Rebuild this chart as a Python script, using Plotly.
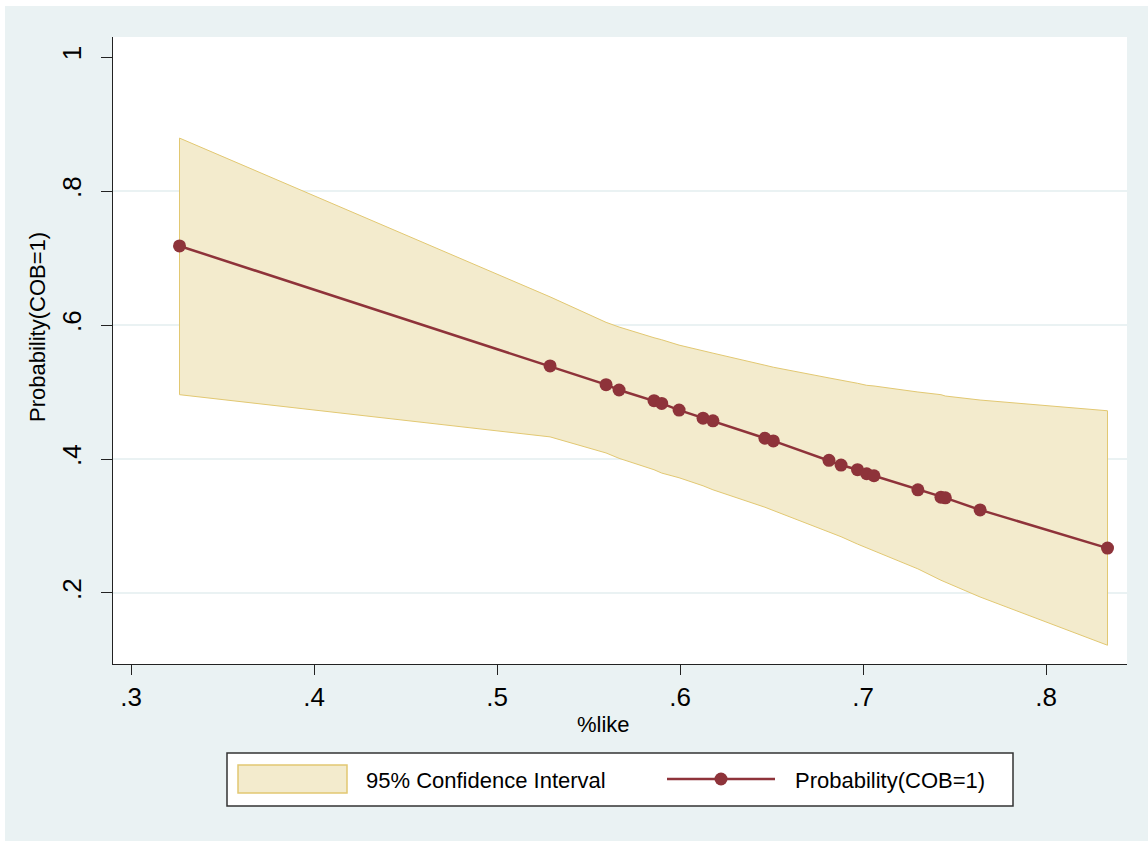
import plotly.graph_objects as go

# ---- data ----
pct_like = [0.3265, 0.529, 0.5596, 0.5667, 0.5858, 0.590, 0.5995, 0.6126, 0.618,
            0.6464, 0.651, 0.6814, 0.688, 0.697, 0.702, 0.706, 0.730, 0.7426,
            0.745, 0.764, 0.8336]
prob = [0.718, 0.539, 0.511, 0.503, 0.487, 0.483, 0.473, 0.461, 0.457,
        0.431, 0.427, 0.398, 0.391, 0.384, 0.378, 0.375, 0.354, 0.343,
        0.342, 0.324, 0.267]
ci_upper = [0.879, 0.642, 0.604, 0.597, 0.581, 0.578, 0.570, 0.561, 0.558,
            0.540, 0.537, 0.521, 0.518, 0.513, 0.510, 0.509, 0.500, 0.496,
            0.494, 0.488, 0.472]
ci_lower = [0.496, 0.433, 0.409, 0.401, 0.384, 0.379, 0.372, 0.360, 0.354,
            0.328, 0.324, 0.291, 0.284, 0.273, 0.267, 0.263, 0.236, 0.219,
            0.216, 0.194, 0.122]

x_ticks = [0.3, 0.4, 0.5, 0.6, 0.7, 0.8]
x_ticktext = [".3", ".4", ".5", ".6", ".7", ".8"]
y_ticks = [0.2, 0.4, 0.6, 0.8, 1.0]
y_ticktext = [".2", ".4", ".6", ".8", "1"]
grid_vals = [0.2, 0.4, 0.6, 0.8]

x_title = "%like"
y_title = "Probability(COB=1)"
ci_name = "95% Confidence Interval"
prob_name = "Probability(COB=1)"

# ---- styles ----
FONT = "Liberation Sans, Arial, sans-serif"
BG = "#EAF2F3"
FILL = "#F3EBCD"
FILL_EDGE = "#E2C872"
LINE = "#8E333A"

W, H = 1148, 841
L, R, T, B = 113, 21, 37, 177
PW, PH = W - L - R, H - T - B


def fx(px):
    return (px - L) / PW


def fy(py):
    return (H - B - py) / PH


fig = go.Figure()

# CI band as closed polygon
band_x = pct_like + pct_like[::-1] + [pct_like[0]]
band_y = ci_upper + ci_lower[::-1] + [ci_upper[0]]
fig.add_trace(go.Scatter(
    x=band_x, y=band_y, mode="lines", fill="toself",
    fillcolor=FILL, line=dict(color=FILL_EDGE, width=1),
    name=ci_name, showlegend=False, hoverinfo="skip"))

fig.add_trace(go.Scatter(
    x=pct_like, y=prob, mode="lines+markers",
    line=dict(color=LINE, width=2.5),
    marker=dict(color=LINE, size=13),
    name=prob_name, showlegend=False))

shapes = []
# horizontal grid lines
for g in grid_vals:
    shapes.append(dict(type="line", xref="paper", yref="y", x0=0, x1=1, y0=g, y1=g,
                       line=dict(color=BG, width=2), layer="below"))

# white border strips (top and left) as in the reference image
shapes.append(dict(type="rect", xref="paper", yref="paper",
                   x0=fx(0), x1=fx(W), y0=fy(0), y1=fy(6),
                   fillcolor="white", line=dict(width=0)))
shapes.append(dict(type="rect", xref="paper", yref="paper",
                   x0=fx(0), x1=fx(5), y0=fy(0), y1=fy(H),
                   fillcolor="white", line=dict(width=0)))

# custom legend box
shapes.append(dict(type="rect", xref="paper", yref="paper",
                   x0=fx(227), x1=fx(1013), y0=fy(806), y1=fy(753),
                   fillcolor="white", line=dict(color="#333333", width=1.5)))
shapes.append(dict(type="rect", xref="paper", yref="paper",
                   x0=fx(238), x1=fx(347), y0=fy(793), y1=fy(765),
                   fillcolor=FILL, line=dict(color=FILL_EDGE, width=1.5)))
shapes.append(dict(type="line", xref="paper", yref="paper",
                   x0=fx(667), x1=fx(775), y0=fy(779), y1=fy(779),
                   line=dict(color=LINE, width=2.5)))
shapes.append(dict(type="circle", xref="paper", yref="paper",
                   xsizemode="pixel", ysizemode="pixel",
                   xanchor=fx(721), yanchor=fy(779),
                   x0=-6.5, x1=6.5, y0=-6.5, y1=6.5,
                   fillcolor=LINE, line=dict(color=LINE, width=0)))

annotations = [
    dict(text=ci_name, xref="paper", yref="paper", x=fx(364), y=fy(780),
         xanchor="left", yanchor="middle", showarrow=False,
         font=dict(family=FONT, size=22, color="black")),
    dict(text=prob_name, xref="paper", yref="paper", x=fx(793), y=fy(780),
         xanchor="left", yanchor="middle", showarrow=False,
         font=dict(family=FONT, size=22, color="black")),
    dict(text=x_title, xref="paper", yref="paper", x=fx(603), y=fy(724),
         xanchor="center", yanchor="middle", showarrow=False,
         font=dict(family=FONT, size=22, color="black")),
    dict(text=y_title, xref="paper", yref="paper", x=fx(37), y=fy(327),
         xanchor="center", yanchor="middle", showarrow=False, textangle=-90,
         font=dict(family=FONT, size=22, color="black")),
]

fig.update_layout(
    width=W, height=H,
    margin=dict(l=L, r=R, t=T, b=B, pad=0),
    paper_bgcolor=BG, plot_bgcolor="white",
    font=dict(family=FONT, color="black"),
    shapes=shapes, annotations=annotations,
    showlegend=False,
    xaxis=dict(range=[0.29016, 0.84426], tickvals=x_ticks, ticktext=x_ticktext,
               ticks="outside", ticklen=10, tickcolor="#222222", tickwidth=1,
               showline=True, linecolor="#222222", linewidth=1.2,
               showgrid=False, zeroline=False,
               tickfont=dict(family=FONT, size=26, color="black")),
    yaxis=dict(range=[0.0940, 1.0299], tickvals=y_ticks, ticktext=y_ticktext,
               ticks="outside", ticklen=11, tickcolor="#222222", tickwidth=1,
               showline=True, linecolor="#222222", linewidth=1.2,
               showgrid=False, zeroline=False, tickangle=-90,
               ticklabelstandoff=10,
               tickfont=dict(family=FONT, size=26, color="black")),
)

fig.write_html("out.html", config={"displayModeBar": False},
               post_script="document.body.style.margin='0';")
